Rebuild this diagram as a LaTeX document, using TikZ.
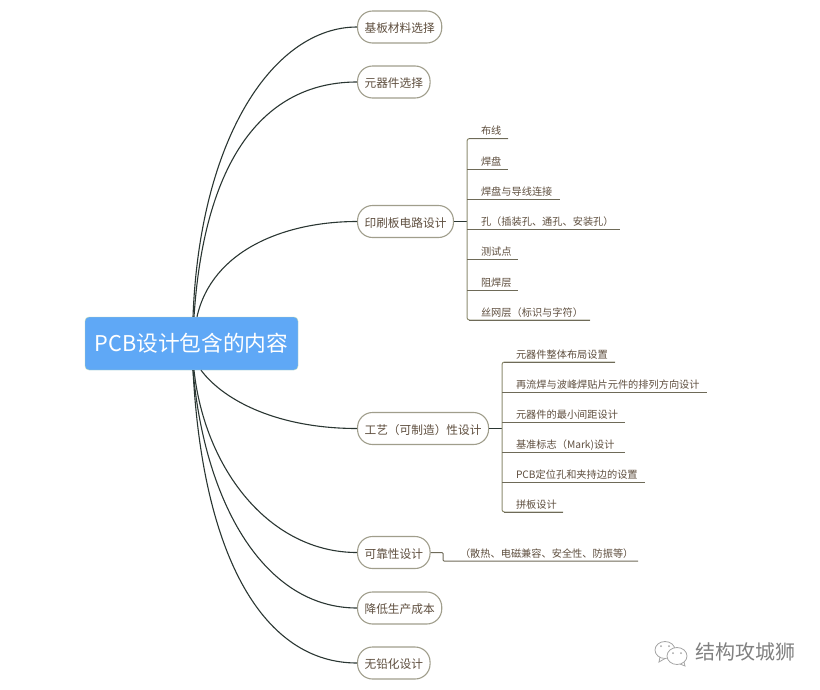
\documentclass[tikz,border=0pt]{standalone}
\usepackage{fontspec}
\setmainfont{Noto Sans CJK SC}
\usepackage{tikz}
\definecolor{rootblue}{HTML}{5FA8F6}
\definecolor{inkdark}{HTML}{2A3632}
\definecolor{twigline}{HTML}{6E6A58}
\definecolor{trunkline}{HTML}{8C8B6E}
\definecolor{pilledge}{HTML}{A09E8C}
\definecolor{textbrown}{HTML}{5E4E3E}

\begin{document}
\begin{tikzpicture}[x=1pt, y=-1pt,
    root/.style={rectangle, fill=rootblue, draw=rootblue!60!yellow!70!white, line width=0.4pt, rounded corners=4pt, minimum width=213pt, minimum height=53pt, inner sep=0pt, text=white, font=\fontsize{21.7}{25}\selectfont},
    main/.style={rectangle, draw=pilledge, fill=white, line width=1.1pt, rounded corners=15pt, anchor=west, minimum height=32pt, inner xsep=7pt, inner ysep=0pt, text height=12pt, text depth=1pt, text=textbrown, font=\fontsize{11.7}{14}\selectfont},
    leaf/.style={anchor=south west, inner sep=0pt, outer sep=0pt, text width=#1, align=left, text height=10pt, text depth=4pt, text=textbrown, font=\fontsize{10.2}{12}\selectfont},
    branch/.style={draw=inkdark, line width=1.1pt},
    twig/.style={draw=twigline, line width=1pt},
    trunk/.style={draw=trunkline, line width=1pt, rounded corners=2.5pt},
    bubble/.style={draw=black!35, fill=white, line width=0.8pt}]
    \useasboundingbox (0,0) rectangle (820,689);

    \node[root] (root) at (191.5,343.5) {\raisebox{-3pt}{PCB设计包含的内容}};

    \node[main] (p1) at (357,27) {基板材料选择};
    \node[main] (p2) at (357,82) {元器件选择};
    \node[main] (p3) at (357,221.5) {印刷板电路设计};
    \node[main] (p4) at (357,428.5) {工艺（可制造）性设计};
    \node[main] (p5) at (357,552.5) {可靠性设计};
    \node[main] (p6) at (357,608) {降低生产成本};
    \node[main] (p7) at (357,663) {无铅化设计};

    \draw[branch] ([xshift=1.5pt]root.north) .. controls (200,135) and (275,27) .. (p1.west);
    \draw[branch] ([xshift=2.5pt]root.north) .. controls (205,150) and (270,82) .. (p2.west);
    \draw[branch] ([xshift=5.5pt]root.north) .. controls (212,250) and (285,221.5) .. (p3.west);
    \draw[branch] ([xshift=9.5pt]root.south) .. controls (225,402) and (280,428.5) .. (p4.west);
    \draw[branch] ([xshift=2.5pt]root.south) .. controls (205,470) and (270,552.5) .. (p5.west);
    \draw[branch] ([xshift=1.5pt]root.south) .. controls (205,505) and (265,608) .. (p6.west);
    \draw[branch] ([xshift=1.5pt]root.south) .. controls (203,560) and (265,663) .. (p7.west);

    \coordinate (j3) at (467,221.5);
    \node[leaf=27pt] (a1) at (481,138.5) {布线};
    \node[leaf=27pt] (a2) at (481,169) {焊盘};
    \node[leaf=79pt] (a3) at (481,199.5) {焊盘与导线连接};
    \node[leaf=139pt] (a4) at (481,229.5) {孔（插装孔、通孔、安装孔）};
    \node[leaf=37pt] (a5) at (481,259.5) {测试点};
    \node[leaf=37pt] (a6) at (481,290) {阻焊层};
    \node[leaf=109pt] (a7) at (481,320) {丝网层（标识与字符）};

    \draw[branch] (p3.east) -- (j3);
    \draw[trunk] (a1.south east) -- (j3|-a1.south) -- (j3|-a7.south) -- (a7.south east);
    \draw[twig] ([xshift=2pt]j3|-a1.south) -- (a1.south east);
    \draw[twig] (j3|-a2.south) -- (a2.south east);
    \draw[twig] (j3|-a3.south) -- (a3.south east);
    \draw[twig] (j3|-a4.south) -- (a4.south east);
    \draw[twig] (j3|-a5.south) -- (a5.south east);
    \draw[twig] (j3|-a6.south) -- (a6.south east);
    \draw[twig] ([xshift=2pt]j3|-a7.south) -- (a7.south east);

    \coordinate (j4) at (502,428.5);
    \node[leaf=99pt] (b1) at (516,362) {元器件整体布局设置};
    \node[leaf=191pt] (b2) at (516,392) {再流焊与波峰焊贴片元件的排列方向设计};
    \node[leaf=109pt] (b3) at (516,422) {元器件的最小间距设计};
    \node[leaf=109pt] (b4) at (516,452) {基准标志（Mark)设计};
    \node[leaf=129pt] (b5) at (516,482) {PCB定位孔和夹持边的设置};
    \node[leaf=47pt] (b6) at (516,512) {拼板设计};

    \draw[branch] (p4.east) -- (j4);
    \draw[trunk] (b1.south east) -- (j4|-b1.south) -- (j4|-b6.south) -- (b6.south east);
    \draw[twig] ([xshift=2pt]j4|-b1.south) -- (b1.south east);
    \draw[twig] (j4|-b2.south) -- (b2.south east);
    \draw[twig] (j4|-b3.south) -- (b3.south east);
    \draw[twig] (j4|-b4.south) -- (b4.south east);
    \draw[twig] (j4|-b5.south) -- (b5.south east);
    \draw[twig] ([xshift=2pt]j4|-b6.south) -- (b6.south east);

    \coordinate (j5) at (443,552.5);
    \node[leaf=178pt] (c1) at (460,561) {（散热、电磁兼容、安全性、防振等）};
    \draw[twig, rounded corners=1pt] (p5.east) -- (j5) -- (j5|-c1.south) -- (c1.south east);

    \node[anchor=west, inner sep=0pt, text=black!50, font=\fontsize{20}{24}\selectfont] (mark) at (695,652) {结构攻城狮};
    \draw[bubble] (660,657) -- (659,662) -- (665,658.5);
    \draw[bubble] (665,650) ellipse (10 and 8.5);
    \draw[bubble] (684,662) -- (685,666) -- (680,664);
    \draw[bubble] (677,656) ellipse (10 and 8.5);
    \fill[black!35] (661,646) circle (1) (669,646) circle (1) (673,653) circle (1) (681,653) circle (1);
\end{tikzpicture}
\end{document}
